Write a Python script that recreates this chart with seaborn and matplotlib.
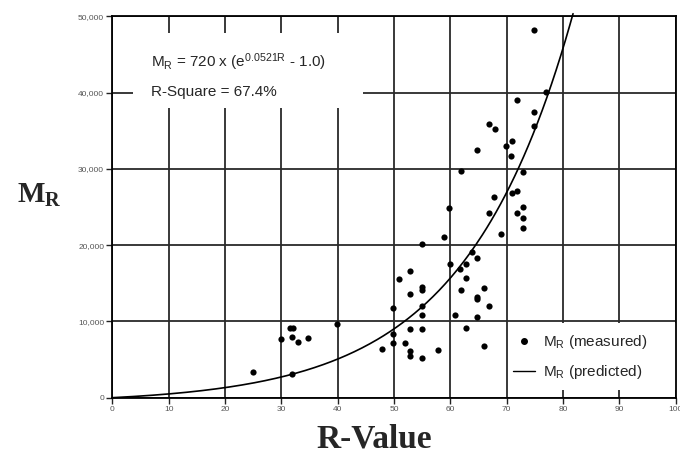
import numpy as np
import pandas as pd
import seaborn as sns
import matplotlib
matplotlib.use("Agg")
import matplotlib.pyplot as plt
from matplotlib.patches import Rectangle
from matplotlib.lines import Line2D
from matplotlib.ticker import FuncFormatter

# ---- data ----
r_value = [24.9, 29.9, 31.5, 32.1, 31.9, 32.9, 34.8, 39.8, 31.9, 47.9,
           49.9, 49.9, 49.9, 50.9, 51.95, 52.8, 52.8, 54.9, 57.9, 52.8,
           54.9, 54.9, 54.9, 52.8, 54.9, 54.9, 52.8, 54.9, 58.9, 59.8,
           59.9, 61.7, 62.8, 62.8, 61.85, 60.9, 62.8, 63.8, 64.8, 65.9,
           64.8, 64.8, 66.9, 64.8, 65.9, 61.85, 64.8, 66.9, 67.8, 68.95,
           70.9, 71.9, 71.9, 72.96, 72.96, 72.9, 72.9, 69.9, 70.9, 70.8,
           66.9, 67.9, 71.8, 74.9, 74.9, 74.9, 77.0]
mr_measured = [3410, 7660, 9200, 9100, 7960, 7340, 7870, 9670, 3070, 6430,
               11720, 8290, 7170, 15530, 7170, 6160, 5470, 5170, 6260, 8970,
               8970, 10850, 12030, 13560, 14580, 14120, 16660, 20120, 21110, 24840,
               17470, 16940, 17530, 15700, 14120, 10850, 9140, 19150, 18260, 14350,
               13210, 12880, 12070, 10580, 6780, 29730, 32490, 24180, 26360, 21530,
               26780, 27040, 24260, 25050, 23570, 22300, 29600, 33050, 33700, 31740,
               35870, 35200, 39040, 37430, 35630, 48220, 40050]
coef_a = 720        # from the chart's equation
coef_b = 0.0521     # from the chart's equation
r_square = 67.4
x_ticks = [0, 10, 20, 30, 40, 50, 60, 70, 80, 90, 100]
y_ticks = [0, 10000, 20000, 30000, 40000, 50000]

df = pd.DataFrame({"R": r_value, "MR": mr_measured})
r_curve = np.linspace(0, 81.8, 300)
df_pred = pd.DataFrame({"R": r_curve, "MR": coef_a * (np.exp(coef_b * r_curve) - 1.0)})

# ---- style ----
sns.set_theme(style="white")
plt.rcParams["font.family"] = ["Liberation Sans", "DejaVu Sans"]
plt.rcParams["mathtext.default"] = "regular"

fig = plt.figure(figsize=(6.8, 4.57), dpi=100)
ax = fig.add_axes([0.1654, 0.1298, 0.8280, 0.8343])
ax.set_axisbelow(True)

sns.lineplot(data=df_pred, x="R", y="MR", ax=ax, color="black", lw=1.2,
             zorder=2, clip_on=False, legend=False)
sns.scatterplot(data=df, x="R", y="MR", ax=ax, color="black", s=20,
                marker="o", linewidth=0, zorder=3, legend=False)

ax.set_xlim(x_ticks[0], x_ticks[-1])
ax.set_ylim(y_ticks[0], y_ticks[-1])
ax.set_xticks(x_ticks)
ax.set_yticks(y_ticks)
ax.yaxis.set_major_formatter(FuncFormatter(lambda v, p: f"{int(v):,}"))
ax.grid(True, color="#2a2a2a", lw=1.3)
ax.tick_params(direction="out", length=4, width=1, labelsize=6,
               labelcolor="#555555", color="#222222", pad=2,
               bottom=True, left=True)
for s in ax.spines.values():
    s.set_visible(True)
    s.set_color("black")
    s.set_linewidth(1.3)
ax.set_xlabel("")
ax.set_ylabel("")

# white boxes behind annotation and legend
ax.add_patch(Rectangle((0.0364, 0.760), 0.409, 0.196, transform=ax.transAxes,
                       facecolor="white", edgecolor="none", zorder=1))
ax.add_patch(Rectangle((0.703, 0.02), 0.297, 0.176, transform=ax.transAxes,
                       facecolor="white", edgecolor="none", zorder=1))

ax.text(0.0684, 0.880,
        r"M$_\mathregular{R}$ = %d x (e$^\mathregular{%s R}$ - 1.0)" % (coef_a, coef_b),
        transform=ax.transAxes, fontsize=11, ha="left", va="center", zorder=4)
ax.text(0.0684, 0.8017, f"R-Square = {r_square}%",
        transform=ax.transAxes, fontsize=11, ha="left", va="center", zorder=4)

handles = [Line2D([], [], ls="none", marker="o", color="black", markersize=4),
           Line2D([], [], color="black", lw=1.0)]
labels = [r"M$_\mathregular{R}$ (measured)", r"M$_\mathregular{R}$ (predicted)"]
ax.legend(handles, labels, loc="upper left", bbox_to_anchor=(0.711, 0.1695),
          frameon=False, fontsize=11, borderpad=0, handlelength=1.45,
          handletextpad=0.5, labelspacing=0.8, borderaxespad=0)

fig.text(0.551, 0.040, "R-Value", family="Liberation Serif", weight="bold",
         fontsize=24, ha="center", va="center")
fig.text(0.058, 1 - 195 / 457, r"M$_\mathregular{R}$", family="Liberation Serif",
         weight="bold", fontsize=21, ha="center", va="center")

fig.savefig("out.png", dpi=100)
